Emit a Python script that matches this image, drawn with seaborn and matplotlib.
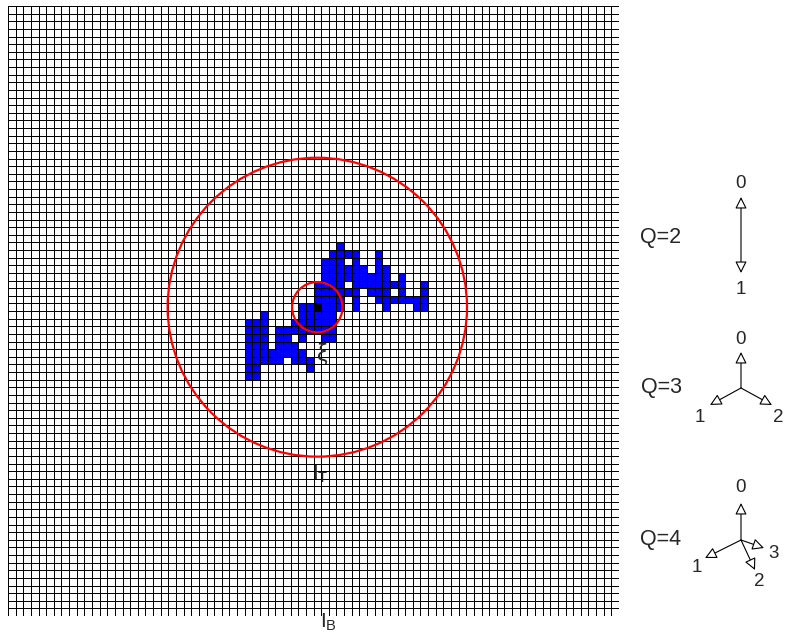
import matplotlib
matplotlib.use("Agg")
import matplotlib.pyplot as plt
import numpy as np
import seaborn as sns
from matplotlib.colors import ListedColormap
from matplotlib.patches import Circle, FancyArrowPatch

sns.set_style("white")
plt.rcParams['font.family'] = ['Liberation Sans', 'DejaVu Sans']
plt.rcParams['mathtext.fontset'] = 'custom'
plt.rcParams['mathtext.rm'] = 'Liberation Sans'
plt.rcParams['mathtext.it'] = 'Liberation Sans:italic'

# lattice and cluster (cells counted from the top-left corner)
L = 80
seed = (40, 39)          # column, row of the seed cell xi
r_small = 3.3            # radius of the inner circle, in cells
r_big = 19.6             # radius of I_T, in cells

cluster_rows = [31, 32, 33, 34, 35, 36, 37, 38, 39, 40, 41, 42, 43, 44, 45, 46, 47, 48]
cluster_cols = [
    [43],
    [42, 43, 44, 45, 48],
    [41, 42, 43, 45, 48],
    [41, 42, 43, 44, 45, 46, 48, 49],
    [41, 42, 43, 44, 45, 46, 47, 48, 49, 51],
    [40, 41, 42, 43, 45, 46, 47, 48, 49, 50, 51, 54],
    [40, 41, 42, 43, 44, 45, 47, 48, 49, 51, 54],
    [40, 41, 42, 43, 45, 48, 49, 50, 51, 52, 53, 54],
    [38, 39, 41, 42, 43, 45, 49, 53, 54],
    [33, 38, 39, 40, 41, 42],
    [31, 32, 33, 37, 38, 39, 40, 41, 42],
    [31, 32, 33, 35, 36, 37, 38, 39, 40, 41, 42],
    [31, 32, 33, 35, 36, 38, 41, 42],
    [31, 32, 33, 35, 36, 37],
    [31, 32, 33, 34, 35, 36, 37, 38],
    [31, 32, 33, 34, 35, 37, 38, 39],
    [31, 32, 39],
    [31, 32],
]

# lattice directions for the legend on the right
q_values = [2, 3, 4]

grid = np.zeros((L, L))
for r, cols in zip(cluster_rows, cluster_cols):
    for c in cols:
        grid[r, c] = 1
grid[seed[1], seed[0]] = 2

fig = plt.figure(figsize=(7.87, 6.39), dpi=100)
ax = fig.add_axes([8 / 787, 23 / 639, 611 / 787, 610 / 639])
sns.heatmap(grid, ax=ax, cmap=ListedColormap(['white', '#0000ff', 'black']),
            vmin=0, vmax=2, cbar=False, linewidths=0.7, linecolor='black',
            xticklabels=False, yticklabels=False, square=False)

cx, cy = seed[0] + 0.5, seed[1] + 0.5
ax.add_patch(Circle((cx, cy), r_small, fill=False, ec='#ff0000', lw=1.6, zorder=5))
ax.add_patch(Circle((cx, cy), r_big, fill=False, ec='#ff0000', lw=1.6, zorder=5))
ax.text(cx + 0.7, cy + 6.2, 'ξ', fontsize=17, ha='center', va='center')
ax.text(cx + 0.4, cy + r_big + 2.3, r'$\mathrm{I}_\mathrm{T}$', fontsize=15, ha='center', va='center')
ax.set_xlim(0, L)
ax.set_ylim(L, 0)

# overlay in pixel coordinates for the legend
ov = fig.add_axes([0, 0, 1, 1])
ov.set_xlim(0, 787)
ov.set_ylim(639, 0)
ov.axis('off')
ov.patch.set_alpha(0)

ov.text(328, 622, r'$\mathrm{I}_\mathrm{B}$', fontsize=15, ha='center', va='center')

ox = 741
legend = {
    2: dict(y=238, center=None,
            tips=[(ox, 197), (ox, 273)],
            labels=[(ox, 184), (ox, 289)]),
    3: dict(y=388, center=(ox, 388),
            tips=[(ox, 352), (710, 405), (772, 405)],
            labels=[(ox, 339), (700, 418), (778, 418)]),
    4: dict(y=540, center=(ox, 540),
            tips=[(ox, 503), (705, 558), (755, 570), (764, 548)],
            labels=[(ox, 488), (697, 567), (759, 582), (774, 554)]),
}

astyle = '-|>,head_length=0.7,head_width=0.35'
for q in q_values:
    d = legend[q]
    ov.text(661, d['y'], f'Q={q}', fontsize=15.5, ha='center', va='center')
    if d['center'] is None:
        a, b = d['tips']
        ov.add_patch(FancyArrowPatch(a, b, arrowstyle='<|-|>,head_length=0.7,head_width=0.35',
                                     mutation_scale=10, fc='white', ec='black', lw=0.8,
                                     shrinkA=0, shrinkB=0))
    else:
        for tip in d['tips']:
            ov.add_patch(FancyArrowPatch(d['center'], tip, arrowstyle=astyle,
                                         mutation_scale=10, fc='white', ec='black', lw=0.8,
                                         shrinkA=0, shrinkB=0))
    for i, (lx, ly) in enumerate(d['labels']):
        ov.text(lx, ly, str(i), fontsize=13.5, ha='center', va='center')

fig.savefig('out.png', dpi=100)
